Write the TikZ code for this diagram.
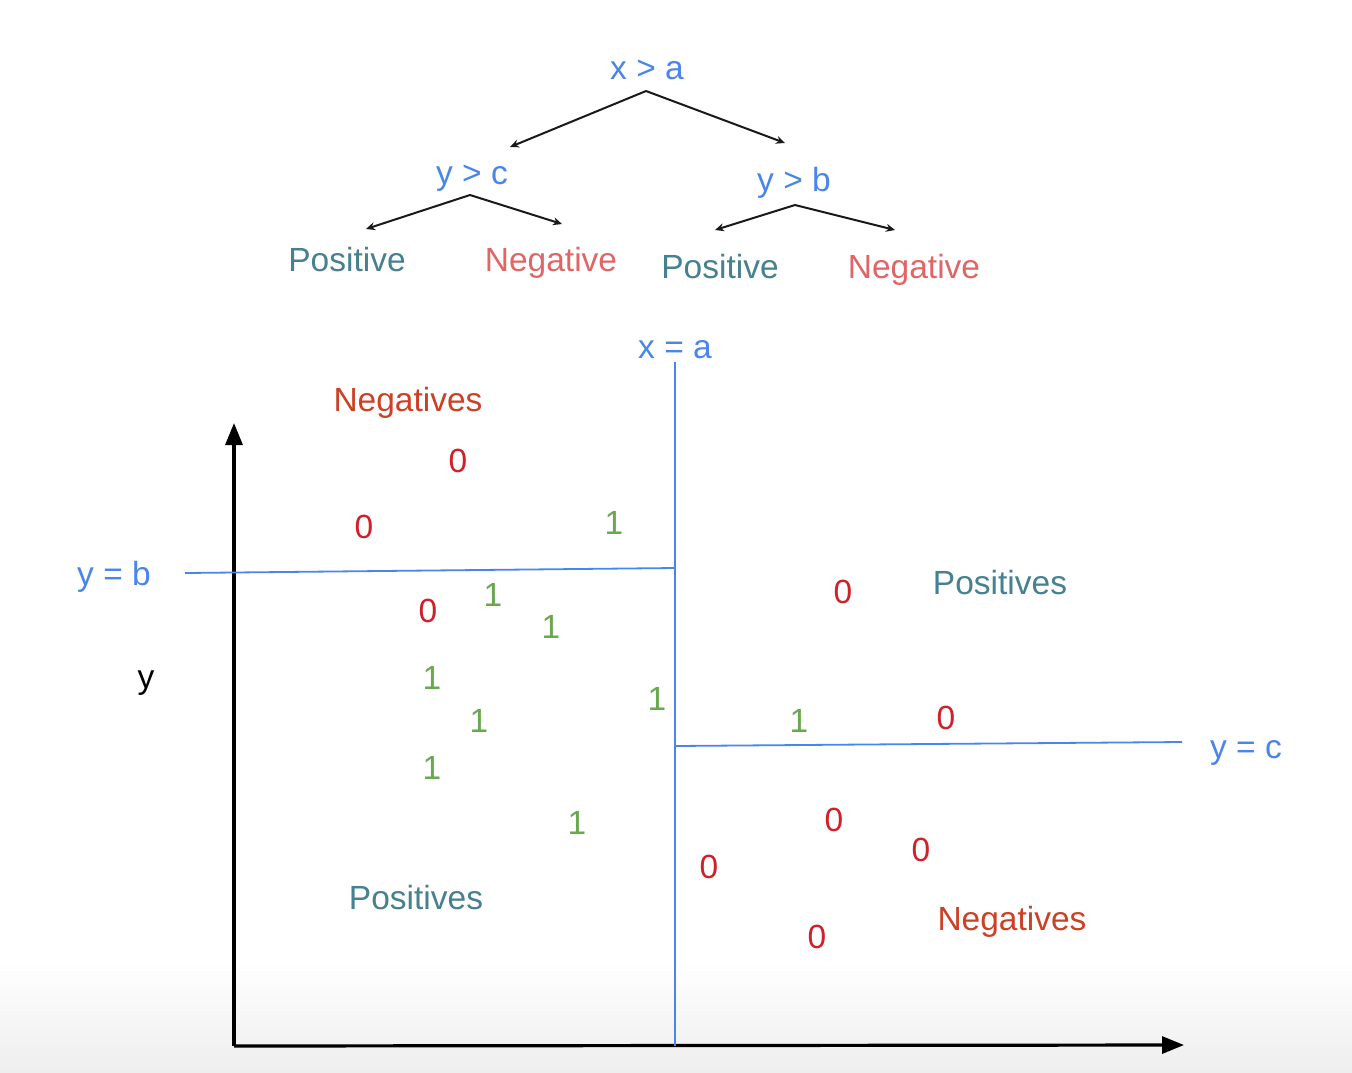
\documentclass[tikz,border=0pt]{standalone}
\usepackage{fontspec}
\setmainfont{Liberation Sans}
\usetikzlibrary{arrows.meta}
\definecolor{cblue}{HTML}{4A86E8}
\definecolor{cteal}{HTML}{45818E}
\definecolor{cneg}{HTML}{E06666}
\definecolor{cnegs}{HTML}{CC4125}
\definecolor{czero}{HTML}{D0212A}
\definecolor{cone}{HTML}{6AA84F}
\definecolor{cgrey}{HTML}{EEEEEE}
\tikzset{
  tlbl/.style={inner sep=0pt, anchor=base, font=\fontsize{33.5}{40}\selectfont},
  tcond/.style={tlbl, text=cblue},
  tposl/.style={tlbl, text=cteal},
  tnegl/.style={tlbl, text=cneg},
  tnegs/.style={tlbl, text=cnegs},
  tzero/.style={tlbl, text=czero},
  tone/.style={tlbl, text=cone},
  tarrow/.style={draw=black!90, line width=2pt, -{Stealth[length=9pt,width=8pt]}},
  taxis/.style={draw=black, line width=3.2pt, -{Triangle[length=22pt,width=17pt]}},
  tsplit/.style={draw=cblue, line width=1.8pt}
}
\begin{document}
\begin{tikzpicture}[x=1pt,y=-1pt]
\useasboundingbox (0,0) rectangle (1352,1072);
\fill[white] (0,0) rectangle (1352,1072);
\shade[top color=white, bottom color=cgrey] (0,960) rectangle (1352,1072);

% tree
\node[tcond] (xa) at (647,79) {x > a};
\node[tcond] (yc) at (472,184) {y > c};
\node[tcond] (yb) at (794,191) {y > b};
\node[tposl] (p1) at (347,271) {Positive};
\node[tnegl] (n1) at (551,271) {Negative};
\node[tposl] (p2) at (720,278) {Positive};
\node[tnegl] (n2) at (914,278) {Negative};

\coordinate (xaA) at (646,91);
\coordinate (xaL) at (510,147);
\coordinate (xaR) at (785,143);
\coordinate (ycA) at (470,195);
\coordinate (ycL) at (366,229);
\coordinate (ycR) at (562,224);
\coordinate (ybA) at (795,205);
\coordinate (ybL) at (715,230);
\coordinate (ybR) at (895,230);
\draw[tarrow] (xaA) -- (xaL);
\draw[tarrow] (xaA) -- (xaR);
\draw[tarrow] (ycA) -- (ycL);
\draw[tarrow] (ycA) -- (ycR);
\draw[tarrow] (ybA) -- (ybL);
\draw[tarrow] (ybA) -- (ybR);

% axes
\coordinate (O) at (234,1046);
\coordinate (Ytip) at (234,423);
\coordinate (Xtip) at (1184,1045);
\draw[taxis] (O) -- (Ytip);
\draw[taxis] (O) -- (Xtip);

% split lines
\coordinate (bL) at (185,573);
\coordinate (bR) at (675,568);
\coordinate (aT) at (675,362);
\coordinate (aB) at (675,1046);
\coordinate (cL) at (675,746);
\coordinate (cR) at (1182,742);
\draw[tsplit] (bL) -- (bR);
\draw[tsplit] (aT) -- (aB);
\draw[tsplit] (cL) -- (cR);

\node[tcond] (lxa) at (675,358) {x = a};
\node[tcond] (lyb) at (114,585) {y = b};
\node[tcond] (lyc) at (1246,758) {y = c};
\node[tlbl] (ly) at (146,688) {y};

\node[tnegs] (negA) at (408,411) {Negatives};
\node[tposl] (posA) at (1000,594) {Positives};
\node[tposl] (posB) at (416,909) {Positives};
\node[tnegs] (negB) at (1012,930) {Negatives};

% zeros
\node[tzero] (z1) at (458,472) {0};
\node[tzero] (z2) at (364,538) {0};
\node[tzero] (z3) at (428,622) {0};
\node[tzero] (z4) at (843,603) {0};
\node[tzero] (z5) at (946,729) {0};
\node[tzero] (z6) at (834,831) {0};
\node[tzero] (z7) at (921,861) {0};
\node[tzero] (z8) at (709,878) {0};
\node[tzero] (z9) at (817,948) {0};

% ones
\node[tone] (o1) at (614,534) {1};
\node[tone] (o2) at (493,606) {1};
\node[tone] (o3) at (551,638) {1};
\node[tone] (o4) at (432,689) {1};
\node[tone] (o5) at (479,732) {1};
\node[tone] (o6) at (432,779) {1};
\node[tone] (o7) at (657,710) {1};
\node[tone] (o8) at (577,834) {1};
\node[tone] (o9) at (799,732) {1};
\end{tikzpicture}
\end{document}
